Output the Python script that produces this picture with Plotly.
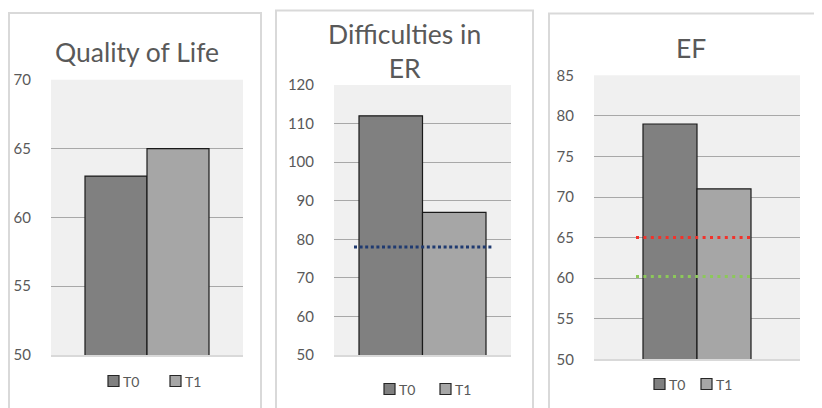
import plotly.graph_objects as go

W, H = 822, 408

# ---- data ----
titles = ["Quality of Life", "Difficulties in<br>ER", "EF"]
series_names = ["T0", "T1"]
qol_values = [63, 65]
er_values = [112, 87]
ef_values = [79, 71]
er_reference = [78]
ef_reference = [65, 60.2]
y_ranges = [[50, 70], [50, 120], [50, 85]]
y_dticks = [5, 10, 5]

panel_values = [qol_values, er_values, ef_values]
panel_refs = [[], er_reference, ef_reference]

# ---- styling ----
FONT = "Lato, Open Sans, sans-serif"
TXT = "#595959"
bar_colors = ["#808080", "#A6A6A6"]
ref_colors = [[], ["#1F3A70"], ["#F2322B", "#8CC85A"]]
ref_dash = ["3px,3px", "3px,2.6px", "3px,4.4px"]

OFF = 8  # page body margin compensation

def px_x(p):
    return (p - OFF) / W

def px_y(p):
    return 1 - (p - OFF) / H

# plot areas in pixels (left, right, top, bottom)
areas = [(51, 243, 79.7, 355), (334, 511, 85, 355), (594, 800, 75.3, 359.3)]
bar_px = [62, 63.5, 54]
ref_extent = [None, (354, 492), (636, 754)]
title_pos = [(137, 52), (404, 51.5), (691, 48)]
# legend: left edge of each key square, vertical centre
legend_keys = [[(108, 381), (170, 381)], [(384, 389), (440, 389)], [(654, 384), (701, 384)]]
KEY = 11
borders = [(9, 261, 13), (276, 533, 10.5), (549, 860, 13.5)]

fig = go.Figure()
layout = dict(
    width=W, height=H, margin=dict(l=0, r=0, t=0, b=0, autoexpand=False),
    paper_bgcolor="white", plot_bgcolor="#F0F0F0",
    barmode="overlay", showlegend=False,
    font=dict(family=FONT, color=TXT),
)
shapes = []
annotations = []

for i in range(3):
    sfx = "" if i == 0 else str(i + 1)
    xa, ya = "x" + sfx, "y" + sfx
    l, r, t, b = areas[i]
    w = bar_px[i] / (r - l)
    for j, name in enumerate(series_names):
        fig.add_trace(go.Bar(
            x=[0], y=[panel_values[i][j]], name=name,
            offset=-w if j == 0 else 0, width=w,
            marker=dict(color=bar_colors[j], line=dict(color="#1A1A1A", width=1.2)),
            xaxis=xa, yaxis=ya, hoverinfo="y+name",
        ))
        # legend key
        kx, ky = legend_keys[i][j]
        shapes.append(dict(
            type="rect", xref="paper", yref="paper",
            x0=px_x(kx), x1=px_x(kx + KEY), y0=px_y(ky + KEY / 2), y1=px_y(ky - KEY / 2),
            fillcolor=bar_colors[j], line=dict(color="#262626", width=1.2),
        ))
        annotations.append(dict(
            text=name, xref="paper", yref="paper",
            x=px_x(kx + KEY + 2), y=px_y(ky + 0.5), xanchor="left", yanchor="middle",
            showarrow=False, font=dict(size=14, color=TXT, family=FONT),
        ))
    layout["xaxis" + sfx] = dict(
        domain=[px_x(l), px_x(r)], range=[-0.5, 0.5], anchor=ya,
        showticklabels=False, showgrid=False, zeroline=False, automargin=False,
        showline=True, linecolor="#D9D9D9", linewidth=1.5, fixedrange=True,
    )
    layout["yaxis" + sfx] = dict(
        domain=[px_y(b), px_y(t)], range=y_ranges[i], dtick=y_dticks[i], anchor=xa,
        showgrid=True, gridcolor="#A8A8A8", gridwidth=1.2, zeroline=False,
        showline=False, ticks="", ticklabelstandoff=19, automargin=False,
        tickfont=dict(size=15, color=TXT, family=FONT), fixedrange=True,
    )
    for k, val in enumerate(panel_refs[i]):
        x0, x1 = ref_extent[i]
        shapes.append(dict(
            type="line", xref=xa + " domain", yref=ya,
            x0=(x0 - l) / (r - l), x1=(x1 - l) / (r - l), y0=val, y1=val,
            line=dict(color=ref_colors[i][k], width=3, dash=ref_dash[i]),
        ))
    annotations.append(dict(
        text=titles[i], xref="paper", yref="paper",
        x=px_x(title_pos[i][0]), y=px_y(title_pos[i][1]),
        xanchor="center", yanchor="middle",
        showarrow=False, font=dict(size=26.5, color=TXT, family=FONT),
    ))
    x0, x1, top = borders[i]
    shapes.append(dict(
        type="rect", xref="paper", yref="paper", layer="below",
        x0=px_x(x0), x1=px_x(x1), y0=-0.2, y1=px_y(top),
        line=dict(color="#D9D9D9", width=2), fillcolor="rgba(0,0,0,0)",
    ))

layout["shapes"] = shapes
layout["annotations"] = annotations
fig.update_layout(**layout)
fig.write_html("out.html")
